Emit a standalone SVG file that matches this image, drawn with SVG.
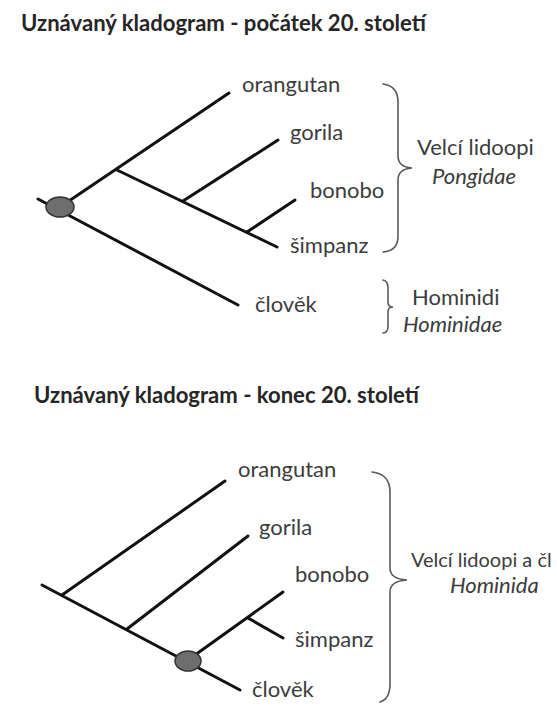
<svg xmlns="http://www.w3.org/2000/svg" width="557" height="706" viewBox="0 0 557 706">
<style>
.title{font-family:Lato,"Liberation Sans",sans-serif;font-weight:bold;font-size:22px;fill:#262626}
.lbl{font-family:Lato,"Liberation Sans",sans-serif;font-size:22px;fill:#3c3c3c}
.it{font-style:italic}
.br{fill:none;stroke:#5a5a5a;stroke-width:1.6;stroke-linecap:round}
.ln{stroke:#111;stroke-width:3;stroke-linecap:round;fill:none}
.nd{fill:#6e6e6e;stroke:#333;stroke-width:1.5}
</style>
<rect width="557" height="706" fill="#fff"/>
<g id="top">
  <text class="title" x="21" y="31" textLength="405" lengthAdjust="spacingAndGlyphs">Uznávaný kladogram - počátek 20. století</text>
  <g id="connectors-top">
    <line class="ln" x1="38" y1="199" x2="238" y2="305"/>
    <line class="ln" x1="60" y1="207" x2="229" y2="93"/>
    <line class="ln" x1="117" y1="170" x2="277" y2="247"/>
    <line class="ln" x1="183" y1="201" x2="278" y2="140"/>
    <line class="ln" x1="247" y1="232" x2="295" y2="200"/>
  </g>
  <g id="root-top"><ellipse class="nd" cx="60" cy="207" rx="14" ry="10"/></g>
  <g id="t-orangutan"><text class="lbl" x="242" y="92">orangutan</text></g>
  <g id="t-gorila"><text class="lbl" x="290" y="140">gorila</text></g>
  <g id="t-bonobo"><text class="lbl" x="310" y="198">bonobo</text></g>
  <g id="t-simpanz"><text class="lbl" x="290" y="253">šimpanz</text></g>
  <g id="t-clovek"><text class="lbl" x="255" y="312">člověk</text></g>
  <g id="t-pongidae">
    <path class="br" d="M383,84 Q398,86 398,102 L398,156 Q398,167 412,168 Q398,169 398,180 L398,236 Q398,251 383,252"/>
    <text class="lbl" x="417" y="155">Velcí lidoopi</text>
    <text class="lbl it" x="432" y="184">Pongidae</text>
  </g>
  <g id="t-hominidae">
    <path class="br" d="M383,280 Q388,281 388,288 L388,302 Q388,307 393,307 Q388,307 388,312 L388,326 Q388,333 383,333"/>
    <text class="lbl" x="412" y="305">Hominidi</text>
    <text class="lbl it" x="403" y="332">Hominidae</text>
  </g>
</g>
<g id="bottom">
  <text class="title" x="34" y="403" textLength="385" lengthAdjust="spacingAndGlyphs">Uznávaný kladogram - konec 20. století</text>
  <g id="connectors-bottom">
    <line class="ln" x1="42" y1="585" x2="240" y2="690"/>
    <line class="ln" x1="62" y1="595" x2="225" y2="481"/>
    <line class="ln" x1="127" y1="629" x2="248" y2="536"/>
    <line class="ln" x1="188" y1="660" x2="283" y2="592"/>
    <line class="ln" x1="248" y1="618" x2="283" y2="638"/>
  </g>
  <g id="root-bottom"><ellipse class="nd" cx="188" cy="661" rx="13" ry="10"/></g>
  <g id="b-orangutan"><text class="lbl" x="238" y="477">orangutan</text></g>
  <g id="b-gorila"><text class="lbl" x="259" y="535">gorila</text></g>
  <g id="b-bonobo"><text class="lbl" x="295" y="582">bonobo</text></g>
  <g id="b-simpanz"><text class="lbl" x="295" y="647">šimpanz</text></g>
  <g id="b-clovek"><text class="lbl" x="252" y="697">člověk</text></g>
  <g id="b-hominidae">
    <path class="br" d="M372,472 Q390,474 390,492 L390,568 Q390,579 407,580 Q390,581 390,592 L390,684 Q390,699 380,702"/>
    <text class="lbl" x="411" y="567" style="font-size:20px">Velcí lidoopi a čl</text>
    <text class="lbl it" x="450" y="593">Hominida</text>
  </g>
</g>
</svg>
